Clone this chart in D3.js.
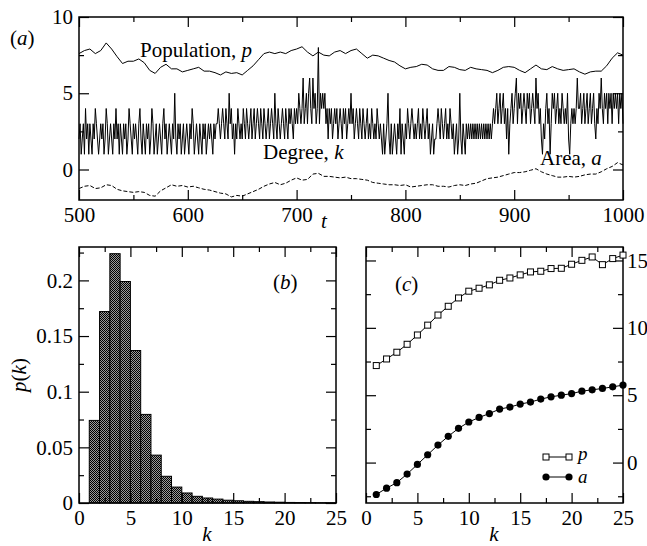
<!DOCTYPE html>
<html><head><meta charset="utf-8">
<script src="https://cdn.jsdelivr.net/npm/d3@7"></script>
<style>
html,body{margin:0;padding:0;background:#fff;}
svg{display:block;}
text{font-family:"Liberation Serif","Times New Roman",serif;fill:#000;}
</style></head>
<body>
<script>
// ---------- DATA ----------
// Panel (a): time series, t from 500 to 1000
const popT0 = 500, popStep = 5;
const population = [
 7.6,7.8,7.9,7.6,7.8,8.3,7.9,7.4,6.95,7.1,
 7.1,7.25,7.0,6.5,6.3,6.7,6.9,6.6,6.6,6.4,
 6.5,6.6,6.7,6.45,6.45,6.35,6.2,6.4,6.3,6.35,
 6.2,6.5,6.8,7.2,7.6,7.7,7.6,7.7,7.6,7.8,
 7.9,8.05,7.7,7.45,7.7,7.5,7.45,7.7,7.8,7.6,
 7.8,7.9,7.6,7.3,7.5,7.45,7.3,7.15,7.05,6.8,
 6.6,6.7,6.75,6.9,6.85,6.6,6.5,6.5,6.75,6.7,
 6.55,6.5,6.7,6.6,6.55,6.5,6.35,6.5,6.7,6.75,
 6.7,6.5,6.35,6.6,6.85,6.6,6.55,6.75,6.6,6.5,
 6.55,6.6,6.4,6.25,6.4,6.45,6.45,6.8,7.3,7.65,
 7.5
];
const area = [
 -1.25,-1.1,-1.05,-1.25,-1.2,-1.0,-1.05,-1.3,-1.4,-1.45,
 -1.5,-1.45,-1.5,-1.7,-1.75,-1.4,-1.2,-1.0,-1.1,-1.05,
 -1.15,-1.1,-1.2,-1.3,-1.35,-1.45,-1.55,-1.6,-1.8,-1.7,
 -1.75,-1.6,-1.45,-1.3,-1.1,-0.95,-0.85,-1.0,-0.9,-0.7,
 -0.55,-0.7,-0.65,-0.3,-0.25,-0.45,-0.45,-0.5,-0.55,-0.5,
 -0.6,-0.6,-0.65,-0.7,-0.85,-0.9,-0.95,-1.0,-1.0,-1.05,
 -1.0,-1.15,-1.1,-1.05,-1.0,-1.0,-1.1,-1.1,-1.15,-1.05,
 -1.0,-1.05,-0.95,-0.9,-0.75,-0.6,-0.55,-0.5,-0.4,-0.3,
 -0.2,-0.2,-0.15,-0.05,0.05,-0.15,-0.3,-0.4,-0.5,-0.5,
 -0.45,-0.5,-0.45,-0.35,-0.3,-0.3,-0.15,0.05,0.2,0.45,
 0.3
];
const degT0 = 500, degStep = 1;
const degree = [
 2,3,1,2,3,1,4,2,3,1, 3,2,1,3,2,4,3,2,1,2,
 3,2,3,1,2,4,3,1,2,3, 2,1,3,2,4,2,3,1,3,2,
 1,3,2,3,1,2,4,3,2,1, 3,2,3,2,1,3,4,2,1,3,
 2,1,3,2,3,1,2,4,3,1, 2,3,1,2,3,2,1,3,4,2,
 3,1,2,3,2,1,3,2,5,2, 1,3,2,3,1,2,3,1,2,3,
 2,1,3,2,4,3,1,2,3,2, 1,3,2,1,3,2,3,1,2,3,
 2,3,2,1,3,2,3,3,4,3, 2,3,4,3,2,4,3,2,5,3,
 4,2,3,1,3,2,4,3,2,3, 2,4,3,2,4,3,2,3,4,2,
 3,4,2,3,4,3,2,4,3,2, 4,3,2,3,4,2,3,4,3,2,
 5,3,2,4,3,2,3,4,3,2, 4,3,2,4,3,4,3,2,4,3,
 4,3,5,4,3,4,6,3,4,5, 3,5,6,4,3,6,4,5,3,4,
 8,3,5,4,5,4,5,3,4,2, 4,3,4,2,3,4,3,4,2,3,
 4,3,2,4,3,4,2,3,4,3, 5,3,4,2,3,4,3,2,4,3,
 2,4,3,2,3,4,2,3,2,4, 3,2,3,2,4,3,2,3,2,1,
 3,1,2,3,5,2,1,3,1,2, 3,2,1,3,2,4,1,3,2,1,
 3,2,4,3,2,3,4,3,2,3, 2,3,4,2,3,2,4,3,2,3,
 4,2,3,1,2,3,1,2,2,3, 4,3,2,4,3,2,3,4,2,3,
 2,4,3,2,3,1,2,3,1,2, 5,2,1,3,2,1,3,2,3,2,
 3,2,3,2,3,2,3,2,3,2, 3,2,3,2,3,2,3,2,3,2,
 3,4,3,4,5,3,4,5,3,4, 5,3,4,2,4,1,3,4,5,3,
 4,5,6,3,5,4,5,3,4,5, 4,3,5,4,5,3,4,5,4,3,
 6,4,5,3,4,2,1,3,2,4, 5,3,4,1,3,5,4,5,3,4,
 5,3,4,3,5,4,3,4,3,5, 2,1,3,4,3,4,3,4,6,4,
 4,5,3,4,5,3,4,5,3,4, 5,3,4,5,3,2,4,3,5,4,
 6,4,3,5,4,5,3,5,4,5, 3,5,4,5,4,5,3,5,4,5,
 3
];
// Panel (b): degree distribution p(k), bins [k, k+1)
const binK = [1,2,3,4,5,6,7,8,9,10,11,12,13,14,15,16,17,18,19,20,21,22,23,24];
const pk = [0.0742,0.172,0.224,0.199,0.137,0.0796,0.043,0.024,0.0143,0.009,0.006,0.0045,0.0035,0.0025,0.002,0.0015,0.0012,0.0009,0.0007,0.0005,0.0004,0.0003,0.0002,0.0002];
// Panel (c): mean p and a vs k
const kVals = [1,2,3,4,5,6,7,8,9,10,11,12,13,14,15,16,17,18,19,20,21,22,23,24,25];
const pMean = [7.2,7.69,8.19,8.78,9.47,10.2,10.95,11.6,12.22,12.72,12.94,13.19,13.53,13.7,13.93,14.15,14.2,14.4,14.42,14.72,15.01,15.26,14.69,15.14,15.4];
const aMean = [-2.37,-1.9,-1.49,-0.85,-0.14,0.58,1.3,1.95,2.54,3.01,3.35,3.64,3.97,4.12,4.34,4.49,4.71,4.88,5.0,5.12,5.3,5.4,5.5,5.62,5.75];
// tick labels
const ticksA_x = [500,600,700,800,900,1000];
const ticksA_y = [0,5,10];
const ticksB_x = [0,5,10,15,20,25];
const ticksB_y = [0,0.05,0.1,0.15,0.2];
const ticksB_yLabels = ["0","0.05","0.1","0.15","0.2"];
const ticksC_y = [0,5,10,15];

// ---------- DRAW ----------
const W=647,H=546,FS=21;
const svg=d3.select("body").append("svg").attr("width",W).attr("height",H);
const defs=svg.append("defs");
const pat=defs.append("pattern").attr("id","chk").attr("patternUnits","userSpaceOnUse").attr("width",2).attr("height",2);
pat.append("rect").attr("width",2).attr("height",2).attr("fill","#9a9a9a").attr("shape-rendering","crispEdges");
pat.append("rect").attr("x",0).attr("y",0).attr("width",1).attr("height",1).attr("fill","#000").attr("shape-rendering","crispEdges");
pat.append("rect").attr("x",1).attr("y",1).attr("width",1).attr("height",1).attr("fill","#000").attr("shape-rendering","crispEdges");

function axes(g,x,y,o){
  const L=10,S=5;
  const mk=(axis,tr,vals,size,fmt,show)=>{
    const a=axis.tickValues(vals).tickSize(size).tickSizeOuter(0).tickPadding(4).tickFormat(show?fmt:()=>"");
    const gg=g.append("g").attr("transform",tr).call(a);
    gg.select(".domain").remove();
    gg.selectAll("line").attr("stroke","#000").attr("stroke-width",1.2);
    gg.selectAll("text").attr("font-size",FS).style("font-family","'Liberation Serif','Times New Roman',serif").attr("fill","#000");
    return gg;
  };
  const [x0,x1]=x.range(),[y0,y1]=y.range();
  const bx=mk(d3.axisBottom(x),`translate(0,${y0})`,o.xMajor,-L,o.xFmt,true);
  bx.selectAll("text").attr("y",7).attr("dy","0.71em");
  mk(d3.axisBottom(x),`translate(0,${y0})`,o.xMinor,-S,null,false);
  mk(d3.axisTop(x),`translate(0,${y1})`,o.xMajor,-L,null,false);
  mk(d3.axisTop(x),`translate(0,${y1})`,o.xMinor,-S,null,false);
  const ly=mk(d3.axisLeft(y),`translate(${x0},0)`,o.yMajor,-L,o.yFmt,o.ySide==="left");
  mk(d3.axisLeft(y),`translate(${x0},0)`,o.yMinor,-S,null,false);
  const ry=mk(d3.axisRight(y),`translate(${x1},0)`,o.yMajor,-L,o.yFmt,o.ySide==="right");
  mk(d3.axisRight(y),`translate(${x1},0)`,o.yMinor,-S,null,false);
  if(o.ySide==="left") ly.selectAll("text").attr("x",-6);
  if(o.ySide==="right") ry.selectAll("text").attr("x",4);
  g.append("rect").attr("x",x0).attr("y",y1).attr("width",x1-x0).attr("height",y0-y1)
    .attr("fill","none").attr("stroke","#000").attr("stroke-width",1.5);
}

// ----- Panel (a)
const xA=d3.scaleLinear().domain([500,1000]).range([79,623]);
const yA=d3.scaleLinear().domain([-2,10]).range([200,17]);
const gA=svg.append("g");
const line=(xs,ys,t0,st)=>d3.line().x((d,i)=>xs(t0+i*st)).y(d=>ys(d));
gA.append("path").datum(population).attr("d",line(xA,yA,popT0,popStep)).attr("fill","none").attr("stroke","#000").attr("stroke-width",1);
gA.append("path").datum(degree).attr("d",line(xA,yA,degT0,degStep)).attr("fill","none").attr("stroke","#000").attr("stroke-width",1);
gA.append("path").datum(area).attr("d",line(xA,yA,popT0,popStep)).attr("fill","none").attr("stroke","#000").attr("stroke-width",1).attr("stroke-dasharray","4,2");
axes(gA,xA,yA,{xMajor:ticksA_x,xMinor:[550,650,750,850,950],yMajor:ticksA_y,yMinor:[2.5,7.5],xFmt:d3.format("d"),yFmt:d3.format("d"),ySide:"left"});
const tA=gA.append("text").attr("x",10).attr("y",45).attr("font-size",FS);
tA.append("tspan").text("(");tA.append("tspan").attr("font-style","italic").text("a");tA.append("tspan").text(")");
const tp=gA.append("text").attr("x",140).attr("y",57).attr("font-size",FS);
tp.append("tspan").text("Population, ");tp.append("tspan").attr("font-style","italic").text("p");
const tk=gA.append("text").attr("x",263).attr("y",159).attr("font-size",FS);
tk.append("tspan").text("Degree, ");tk.append("tspan").attr("font-style","italic").text("k");
const ta=gA.append("text").attr("x",540).attr("y",165).attr("font-size",FS);
ta.append("tspan").text("Area, ");ta.append("tspan").attr("font-style","italic").text("a");
gA.append("text").attr("x",324).attr("y",228).attr("font-size",FS).attr("font-style","italic").attr("text-anchor","middle").text("t");

// ----- Panel (b)
const xB=d3.scaleLinear().domain([0,25]).range([79,336]);
const yB=d3.scaleLinear().domain([0,0.23]).range([503,247]);
const gB=svg.append("g");
gB.selectAll("rect.bar").data(binK).enter().append("rect").attr("class","bar")
  .attr("x",d=>xB(d)).attr("width",d=>xB(d+1)-xB(d))
  .attr("y",(d,i)=>yB(pk[i])).attr("height",(d,i)=>yB(0)-yB(pk[i]))
  .attr("fill","url(#chk)").attr("stroke","#000").attr("stroke-width",1);
axes(gB,xB,yB,{xMajor:ticksB_x,xMinor:[2.5,7.5,12.5,17.5,22.5],yMajor:ticksB_y,yMinor:[0.025,0.075,0.125,0.175,0.225],
  xFmt:d3.format("d"),yFmt:(d)=>ticksB_yLabels[ticksB_y.indexOf(d)],ySide:"left"});
const tb=gB.append("text").attr("x",273).attr("y",289).attr("font-size",FS);
tb.append("tspan").text("(");tb.append("tspan").attr("font-style","italic").text("b");tb.append("tspan").text(")");
const yl=gB.append("text").attr("transform","translate(26,375) rotate(-90)").attr("text-anchor","middle").attr("font-size",FS);
yl.append("tspan").attr("font-style","italic").text("p");yl.append("tspan").text("(");yl.append("tspan").attr("font-style","italic").text("k");yl.append("tspan").text(")");
gB.append("text").attr("x",207).attr("y",541).attr("text-anchor","middle").attr("font-size",FS).attr("font-style","italic").text("k");

// ----- Panel (c)
const xC=d3.scaleLinear().domain([0,25]).range([366,623]);
const yC=d3.scaleLinear().domain([-3,16]).range([503,247]);
const gC=svg.append("g");
axes(gC,xC,yC,{xMajor:ticksB_x,xMinor:[2.5,7.5,12.5,17.5,22.5],yMajor:ticksC_y,yMinor:[-2.5,2.5,7.5,12.5],
  xFmt:d3.format("d"),yFmt:d3.format("d"),ySide:"right"});
const lc=d3.line().x((d,i)=>xC(kVals[i])).y(d=>yC(d));
gC.append("path").datum(pMean).attr("d",lc).attr("fill","none").attr("stroke","#000").attr("stroke-width",1);
gC.append("path").datum(aMean).attr("d",lc).attr("fill","none").attr("stroke","#000").attr("stroke-width",1);
gC.selectAll("rect.pm").data(pMean).enter().append("rect").attr("class","pm")
  .attr("x",(d,i)=>xC(kVals[i])-3).attr("y",d=>yC(d)-3).attr("width",6).attr("height",6)
  .attr("fill","#fff").attr("stroke","#000").attr("stroke-width",1);
gC.selectAll("circle.am").data(aMean).enter().append("circle").attr("class","am")
  .attr("cx",(d,i)=>xC(kVals[i])).attr("cy",d=>yC(d)).attr("r",3.6).attr("fill","#000");
const tc=gC.append("text").attr("x",395).attr("y",291).attr("font-size",FS);
tc.append("tspan").text("(");tc.append("tspan").attr("font-style","italic").text("c");tc.append("tspan").text(")");
gC.append("text").attr("x",494).attr("y",541).attr("text-anchor","middle").attr("font-size",FS).attr("font-style","italic").text("k");
// legend
const lg=gC.append("g");
lg.append("line").attr("x1",546).attr("x2",569).attr("y1",457).attr("y2",457).attr("stroke","#000");
[546,569].forEach(x=>lg.append("rect").attr("x",x-3).attr("y",454).attr("width",6).attr("height",6).attr("fill","#fff").attr("stroke","#000"));
lg.append("text").attr("x",578).attr("y",460).attr("font-size",19).attr("font-style","italic").text("p");
lg.append("line").attr("x1",546).attr("x2",569).attr("y1",477).attr("y2",477).attr("stroke","#000");
[546,569].forEach(x=>lg.append("circle").attr("cx",x).attr("cy",477).attr("r",3.6).attr("fill","#000"));
lg.append("text").attr("x",578).attr("y",483).attr("font-size",19).attr("font-style","italic").text("a");
</script>
</body></html>
